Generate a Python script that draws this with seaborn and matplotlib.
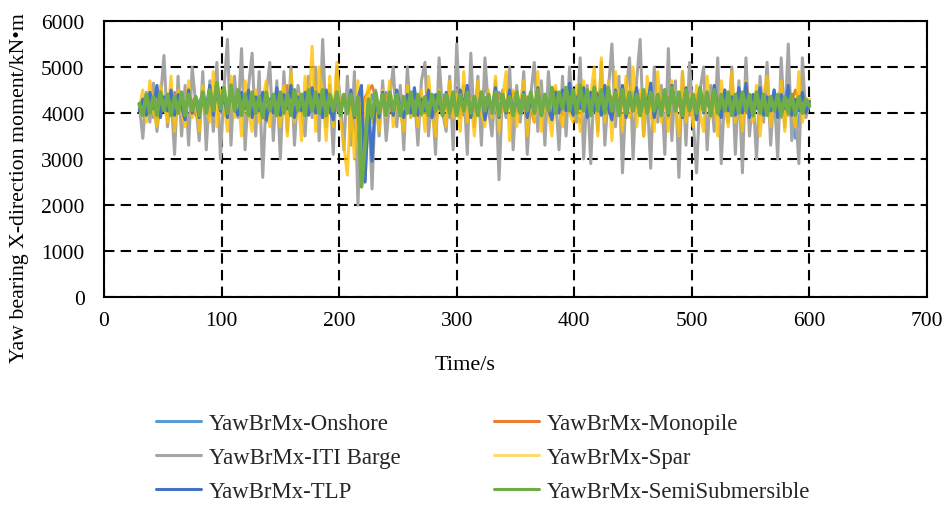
import numpy as np
import pandas as pd
import matplotlib
matplotlib.use("Agg")
import matplotlib.pyplot as plt
import seaborn as sns

# ---------------- data ----------------
t_fine = list(range(30, 601, 3))      # 191 time stamps (s)
t_coarse = list(range(30, 601, 6))    # 96 time stamps (s)

onshore = [
    4100, 4400, 3900, 4350, 4050, 4450, 3950, 4300, 4100, 4400,
    3950, 4500, 4050, 4350, 3900, 4450, 4000, 4350, 3800, 4400,
    4050, 4450, 3950, 4400, 4100, 4500, 3900, 4350, 4050, 4400,
    3950, 4300, 3500, 4400, 4000, 4450, 3950, 4350, 4050, 4400,
    3950, 4450, 4050, 4350, 3900, 4500, 4000, 4400, 4050, 4350,
    3950, 4450, 4050, 4400, 3900, 4350, 4100, 4450, 3950, 4400,
    4050, 4500, 3950, 3700, 4400, 4050, 4500, 3950, 4400, 4050,
    4450, 3950, 4400, 4050, 4500, 3900, 4350, 4050, 4450, 3950,
    4400, 4050, 4500, 3950, 4350, 4100, 4450, 3950, 4400, 4050,
    4450, 3900, 4350, 3450, 4300, 4200]

monopile = [
    4150, 4350, 4000, 4450, 3950, 4400, 4050, 4500, 3950, 4350,
    4100, 4450, 3950, 4400, 4050, 4350, 3950, 4500, 4000, 4400,
    4050, 4600, 3950, 4400, 4100, 4350, 3950, 4450, 4050, 4300,
    4000, 3400, 4350, 4600, 4050, 4400, 3950, 4450, 4000, 4350,
    4100, 4450, 3950, 4400, 4050, 4500, 3950, 4350, 4100, 4600,
    4000, 4400, 3950, 4450, 4050, 4350, 3800, 4400, 4050, 4500,
    3950, 4600, 4050, 4400, 3950, 4450, 4100, 4350, 3950, 4500,
    4050, 4400, 3950, 4450, 4100, 4350, 4000, 4500, 3950, 4400,
    4050, 4450, 3950, 4350, 4100, 4500, 4000, 4400, 3950, 4450,
    4050, 4400, 3950, 4500, 4100, 4250]

iti_barge = [
    4200, 3450, 4450, 3800, 4650, 3600, 4300, 5250, 3700, 4400,
    3100, 4800, 3500, 4600, 3300, 5000, 4200, 3400, 4900, 3200,
    4700, 3600, 5100, 3000, 4500, 5600, 3300, 4800, 3900, 5400,
    3200, 4600, 5300, 3500, 4900, 2600, 4400, 5100, 3400, 4700,
    3000, 4900, 3600, 5000, 3300, 4600, 4100, 3500, 4800, 3900,
    5000, 3400, 5600, 3700, 4600, 3100, 5000, 4300, 3200, 4800,
    3300, 4900, 2000, 4400, 2500, 4200, 2350, 4500, 3500, 4700,
    3400, 4300, 5000, 3700, 4600, 3200, 5000, 3900, 4400, 3300,
    4700, 5100, 3500, 4400, 3100, 5200, 4000, 3600, 4800, 3200,
    5500, 3900, 4600, 3100, 5300, 3700, 4800, 3300, 5200, 4100,
    3500, 4700, 2550, 4500, 3900, 5000, 3200, 4600, 3800, 4900,
    3100, 4400, 5100, 3600, 4700, 3300, 4900, 3900, 4400, 3200,
    4800, 3500, 5000, 4000, 3800, 5200, 3000, 4600, 2900, 4700,
    3600, 5100, 3300, 4500, 5500, 3700, 4800, 2700, 4400, 5200,
    3000, 4700, 5600, 3500, 4400, 2800, 5000, 3800, 4600, 3100,
    5400, 3400, 4700, 2600, 4900, 3300, 5100, 3900, 2700, 4500,
    5000, 3200, 4600, 3600, 5200, 2900, 4500, 3800, 5000, 3100,
    4700, 2700, 5200, 3500, 4400, 3000, 4800, 3800, 5100, 3300,
    4500, 3000, 5200, 3700, 5500, 3400, 4200, 2900, 5200, 3900,
    4200]

spar = [
    4100, 4500, 3800, 4700, 4000, 3700, 4600, 4200, 3800, 4800,
    3600, 4500, 4000, 3700, 4700, 3900, 4300, 3600, 4600, 4100,
    3800, 4900, 3700, 4500, 4200, 3600, 4800, 3900, 4400, 3500,
    4700, 4000, 3600, 4500, 3800, 4300, 4700, 3700, 4400, 4100,
    3700, 4600, 3500, 4900, 3800, 4400, 3400, 4800, 4000, 5450,
    3600, 5000, 4300, 3400, 4800, 3700, 5100, 3900, 3300, 2650,
    4300, 3000, 4700, 3500, 4200, 4600, 3800, 4300, 3600, 4500,
    3900, 4700, 3700, 4400, 4000, 3600, 4600, 3900, 4300, 3700,
    4500, 3600, 4800, 4000, 3500, 4500, 4100, 3700, 4700, 3900,
    4400, 3600, 4900, 3800, 4300, 3500, 4700, 4000, 3700, 4500,
    3900, 4800, 3600, 4300, 4900, 3400, 4500, 3700, 4200, 4700,
    3500, 4400, 3800, 4900, 3600, 4300, 4000, 3500, 4600, 4100,
    3700, 4500, 4000, 3800, 4600, 3600, 4700, 3900, 4400, 5000,
    3500, 5200, 3800, 4700, 3400, 4900, 4100, 3600, 4800, 3900,
    5000, 3700, 4500, 3500, 4800, 4000, 3600, 4900, 3800, 4400,
    3600, 4700, 4100, 3500, 4900, 3800, 4400, 3700, 4600, 4000,
    3600, 4800, 3900, 4300, 3500, 4700, 4100, 3700, 4900, 3800,
    4400, 3600, 4700, 4000, 3800, 4600, 3500, 4400, 4800, 3700,
    4300, 3900, 4700, 3600, 4500, 4100, 3700, 4900, 3800, 4200,
    4300]

tlp = [
    4050, 4300, 3950, 4450, 4100, 4600, 3900, 4350, 4050, 4500,
    3950, 4400, 4150, 3850, 4500, 4000, 4350, 3900, 4450, 4100,
    4600, 3950, 4650, 4050, 4400, 3900, 4550, 4150, 3950, 4450,
    4100, 4500, 3900, 4350, 4050, 4450, 3850, 4300, 4000, 4550,
    3950, 4400, 4100, 4600, 3900, 4350, 4050, 4450, 3950, 4550,
    4000, 4400, 3900, 4500, 4100, 3850, 4450, 4050, 4350, 4000,
    4500, 3900, 4300, 4600, 2500, 4200, 2950, 4400, 3900, 4450,
    4050, 4350, 3950, 4500, 4100, 3900, 4400, 4000, 4550, 3950,
    4300, 4050, 4500, 3900, 4400, 4150, 3950, 4450, 4050, 4350,
    3950, 4500, 4100, 4600, 3900, 4350, 4000, 4450, 3850, 4300,
    4100, 4550, 3900, 4400, 4000, 4500, 3950, 4350, 4100, 4450,
    3900, 4300, 4050, 4550, 3950, 4400, 4100, 3850, 4450, 4000,
    4500, 4050, 4650, 3950, 4350, 4100, 4550, 3900, 4450, 4050,
    4400, 3950, 4600, 4100, 3850, 4500, 4000, 4600, 3900, 4350,
    4050, 4550, 3950, 4400, 4100, 4650, 3900, 4300, 4000, 4500,
    3950, 4600, 4100, 4350, 3900, 4550, 4050, 4400, 3850, 4500,
    4000, 4450, 3950, 4600, 4150, 3900, 4500, 4050, 4350, 3950,
    4550, 4000, 4650, 3900, 4400, 4100, 4550, 3950, 4350, 4050,
    4500, 3900, 4400, 4100, 4600, 3950, 4300, 4050, 4450, 4000,
    4250]

semisub = [
    4200, 3950, 4400, 4000, 4350, 3950, 4450, 4050, 4400, 3950,
    4350, 4000, 4450, 3950, 4400, 4050, 4350, 3950, 4450, 4000,
    4500, 4050, 4650, 4100, 4550, 4000, 4600, 4050, 4500, 3950,
    4400, 3950, 4450, 4000, 4350, 3900, 4450, 4050, 4400, 3950,
    4450, 4000, 4400, 3950, 4500, 4050, 4400, 3950, 4500, 4050,
    4450, 4000, 4500, 3950, 4400, 4050, 4450, 3950, 4400, 4000,
    4400, 3950, 4350, 2400, 3300, 4300, 3900, 4450, 4000, 4400,
    3950, 4450, 4050, 4400, 3950, 4350, 4000, 4450, 3950, 4400,
    4000, 4350, 3950, 4400, 4050, 4450, 3950, 4400, 4000, 4450,
    3950, 4400, 4050, 4450, 4000, 4350, 3950, 4450, 4050, 4400,
    4000, 4450, 3950, 4400, 4050, 4350, 3950, 4450, 4000, 4400,
    4050, 4450, 4000, 4500, 3950, 4400, 4050, 4550, 4000, 4450,
    4100, 4550, 4050, 4500, 4000, 4600, 4050, 4500, 3950, 4550,
    4050, 4500, 4000, 4550, 4050, 4450, 3950, 4500, 4000, 4450,
    4050, 4400, 3950, 4500, 4000, 4450, 4050, 4400, 3950, 4500,
    4000, 4550, 4050, 4450, 3950, 4500, 4050, 4400, 4000, 4550,
    4050, 4450, 3950, 4500, 4000, 4400, 4050, 4450, 3950, 4400,
    4000, 4450, 4050, 4400, 3950, 4450, 4000, 4400, 3950, 4350,
    4050, 4400, 3950, 4350, 4000, 4400, 3950, 4350, 4000, 4300,
    4150]

series_names = ["YawBrMx-Onshore", "YawBrMx-Monopile", "YawBrMx-ITI Barge",
                "YawBrMx-Spar", "YawBrMx-TLP", "YawBrMx-SemiSubmersible"]
series_values = [onshore, monopile, iti_barge, spar, tlp, semisub]
series_times = [t_coarse, t_coarse, t_fine, t_fine, t_fine, t_fine]
colors = ["#5B9BD5", "#ED7D31", "#A5A5A5", "#FFC000", "#4472C4", "#70AD47"]
widths = [2.0, 2.0, 2.2, 2.2, 2.2, 2.8]

frames = []
for name, tt, vv in zip(series_names, series_times, series_values):
    frames.append(pd.DataFrame({"Time": tt, "Moment": vv, "Series": name}))
df = pd.concat(frames, ignore_index=True)

# ---------------- style ----------------
sns.set_theme(style="white")
plt.rcParams["font.family"] = ["Liberation Serif", "DejaVu Serif"]

W, H = 950, 506
fig = plt.figure(figsize=(W / 100, H / 100), dpi=100)
ax = fig.add_axes([104 / W, 1 - 298 / H, (927 - 104) / W, (298 - 22) / H])

for name, col, lw in zip(series_names, colors, widths):
    sub = df[df["Series"] == name]
    alpha = 0.8 if name == "YawBrMx-Spar" else 1.0
    sns.lineplot(data=sub, x="Time", y="Moment", color=col, ax=ax,
                 estimator=None, sort=False, linewidth=lw, alpha=alpha,
                 label=name, legend=False)

ax.set_xlim(0, 700)
ax.set_ylim(0, 6000)
ax.set_xticks(range(0, 701, 100))
ax.set_yticks(range(0, 6001, 1000))
ax.set_axisbelow(True)
ax.grid(True, color="black", linestyle=(0, (5, 3)), linewidth=1.5)
for s in ax.spines.values():
    s.set_visible(True)
    s.set_color("black")
    s.set_linewidth(1.5)
ax.tick_params(axis="both", length=0, labelsize=15.5, colors="black")
ax.tick_params(axis="y", pad=14)
ax.tick_params(axis="x", pad=10)
ax.set_xlabel("")
ax.set_ylabel("")

fig.text(465 / W, 1 - 365 / H, "Time/s", fontsize=16, color="black",
         ha="center", va="center")
fig.text(20 / W, 1 - 188 / H, "Yaw bearing X-direction moment/kN\u2022m",
         fontsize=15.7, color="black", ha="center", va="center", rotation=90)

handles = [plt.Line2D([], [], color=c, lw=2.2,
                      alpha=(0.55 if n == "YawBrMx-Spar" else 1.0))
           for n, c in zip(series_names, colors)]
order = [0, 2, 4, 1, 3, 5]
fig.legend([handles[i] for i in order], [series_names[i] for i in order],
           loc="upper left", bbox_to_anchor=(156 / W, 1 - 414 / H), ncol=2,
           frameon=False, borderpad=0, borderaxespad=0,
           fontsize=16.4, handlelength=1.97, handletextpad=0.35,
           columnspacing=4.1, labelspacing=0.58)

fig.savefig("out.png", dpi=100)
